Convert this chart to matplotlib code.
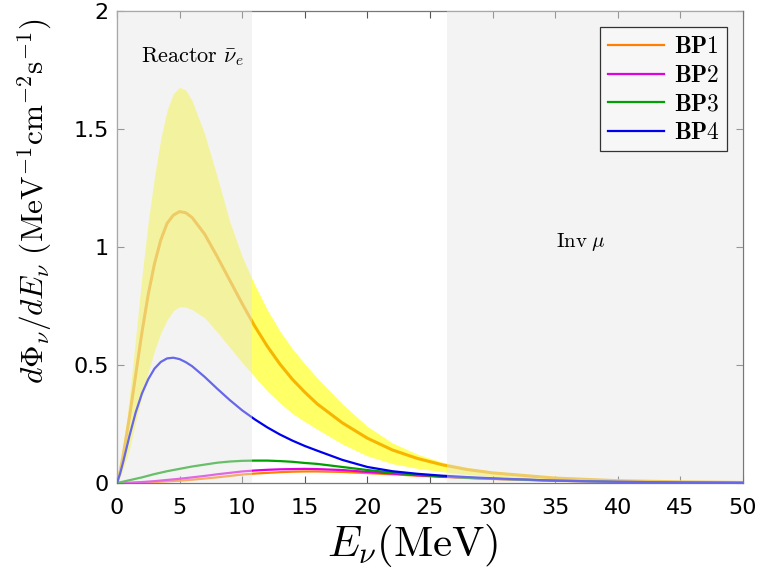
#!/usr/bin/env python3
"""
Reactor antineutrino flux compared with the BP1-BP4 benchmark spectra.
"""

import matplotlib.pyplot as plt
import numpy as np

plt.rcParams.update({
    'font.family': 'DejaVu Sans',
    'font.size': 16,
    'mathtext.fontset': 'cm',
    'xtick.direction': 'in',
    'ytick.direction': 'in',
    'xtick.top': True,
    'ytick.right': True,
})

# energy grids (MeV)
E_fine = [0, 0.25, 0.5, 0.75, 1, 1.5, 2, 2.5, 3, 3.5, 4, 4.5, 5, 5.5, 6, 7, 8, 9, 10,
          11, 12, 13, 14, 15, 16, 18, 20, 22, 24, 26, 28, 30, 35, 40, 45, 50]
E_coarse = [0, 1, 2, 3, 4, 5, 6, 7, 8, 9, 10, 11, 12, 13, 14, 15, 16, 18, 20, 22, 24,
            26, 28, 30, 35, 40, 45, 50]

# reactor flux: central value and band
reactor_mid = [0, 0.05, 0.12, 0.20, 0.28, 0.46, 0.64, 0.80, 0.93, 1.03, 1.10, 1.135, 1.15,
               1.145, 1.125, 1.055, 0.96, 0.86, 0.76, 0.665, 0.58, 0.505, 0.44, 0.385,
               0.335, 0.255, 0.19, 0.14, 0.104, 0.077, 0.057, 0.043, 0.021, 0.010,
               0.005, 0.0025]
reactor_hi = [0, 0.07, 0.16, 0.26, 0.37, 0.62, 0.88, 1.11, 1.30, 1.46, 1.58, 1.65, 1.677,
              1.665, 1.62, 1.48, 1.30, 1.11, 0.96, 0.84, 0.735, 0.645, 0.57, 0.505,
              0.445, 0.335, 0.24, 0.17, 0.122, 0.088, 0.066, 0.05, 0.024, 0.012,
              0.006, 0.003]
reactor_lo = [0, 0.025, 0.06, 0.10, 0.145, 0.26, 0.37, 0.47, 0.56, 0.635, 0.69, 0.73,
              0.747, 0.745, 0.735, 0.70, 0.64, 0.575, 0.51, 0.45, 0.39, 0.34, 0.295,
              0.26, 0.228, 0.165, 0.115, 0.082, 0.062, 0.048, 0.036, 0.027, 0.013,
              0.006, 0.003, 0.0015]

bp4 = [0, 0.04, 0.09, 0.145, 0.20, 0.30, 0.38, 0.44, 0.485, 0.513, 0.528, 0.531, 0.525,
       0.512, 0.495, 0.45, 0.40, 0.352, 0.308, 0.27, 0.236, 0.206, 0.18, 0.157, 0.137,
       0.098, 0.068, 0.05, 0.039, 0.031, 0.025, 0.020, 0.010, 0.005, 0.0025, 0.001]
bp3 = [0, 0.012, 0.024, 0.038, 0.05, 0.06, 0.07, 0.078, 0.086, 0.091, 0.094, 0.095,
       0.095, 0.093, 0.09, 0.085, 0.081, 0.068, 0.055, 0.044, 0.035, 0.028, 0.022,
       0.018, 0.010, 0.005, 0.0025, 0.001]
bp2 = [0, 0.001, 0.004, 0.008, 0.013, 0.018, 0.024, 0.03, 0.037, 0.043, 0.049, 0.053,
       0.056, 0.058, 0.059, 0.06, 0.059, 0.055, 0.047, 0.04, 0.033, 0.027, 0.022,
       0.018, 0.010, 0.005, 0.0025, 0.001]
bp1 = [0, 0.0005, 0.002, 0.004, 0.007, 0.01, 0.014, 0.019, 0.024, 0.03, 0.036, 0.04,
       0.043, 0.046, 0.048, 0.049, 0.049, 0.047, 0.042, 0.037, 0.031, 0.026, 0.021,
       0.017, 0.009, 0.005, 0.0025, 0.001]

# shaded experiment windows (MeV)
reactor_window = (0, 10.8)
inv_mu_window = (26.4, 50)

fig = plt.figure(figsize=(7.61, 5.74), dpi=100)
ax = fig.add_axes([0.1537, 0.1585, 0.8226, 0.8223])

ax.fill_between(E_fine, reactor_lo, reactor_hi, color='#ffff00', alpha=0.6, lw=0, zorder=1)
ax.plot(E_fine, reactor_mid, color='#f7b500', lw=2.2, zorder=2)

ax.plot(E_coarse, bp1, color='#ff7f00', lw=1.6, label=r'$\mathbf{BP1}$', zorder=3)
ax.plot(E_coarse, bp2, color='#e000e0', lw=1.6, label=r'$\mathbf{BP2}$', zorder=3)
ax.plot(E_coarse, bp3, color='#00a000', lw=1.6, label=r'$\mathbf{BP3}$', zorder=3)
ax.plot(E_fine, bp4, color='#0000ee', lw=1.6, label=r'$\mathbf{BP4}$', zorder=3)

# gray windows drawn on top of the curves
for lo, hi in (reactor_window, inv_mu_window):
    ax.axvspan(lo, hi, color='#e6e6e6', alpha=0.45, lw=0, zorder=4)

ax.text(6.0, 1.805, r'$\mathrm{Reactor}\ \bar{\nu}_e$', fontsize=16, ha='center',
        va='center', zorder=5)
ax.text(37.0, 1.02, r'$\mathrm{Inv}\;\mu$', fontsize=15, ha='center', va='center', zorder=5)

ax.set_xlim(0, 50)
ax.set_ylim(0, 2)
ax.set_xticks(np.arange(0, 51, 5))
ax.set_yticks([0, 0.5, 1, 1.5, 2])
ax.set_yticklabels(['0', '0.5', '1', '1.5', '2'])
ax.tick_params(length=5, width=0.8, color='#555555', labelsize=16, pad=6)
ax.tick_params(axis='x', pad=11)
for sp in ax.spines.values():
    sp.set_color('#777777')
    sp.set_linewidth(0.9)

ax.set_xlabel(r'$E_{\nu}(\mathrm{MeV})$', fontsize=31)
ax.xaxis.set_label_coords(0.473, -0.082)
ax.set_ylabel(r'$d\Phi_{\nu}/dE_{\nu}\ (\mathrm{MeV}^{-1}\mathrm{cm}^{-2}\mathrm{s}^{-1})$',
              fontsize=22.5)
ax.yaxis.set_label_coords(-0.1, 0.597)

leg = ax.legend(loc='upper right', bbox_to_anchor=(0.974, 0.966), borderaxespad=0,
                fontsize=17, handlelength=2.4, handletextpad=0.4, labelspacing=0.2,
                borderpad=0.3, fancybox=False, framealpha=1)
leg.get_frame().set_facecolor('#f7f7f7')
leg.get_frame().set_edgecolor('#333333')
leg.get_frame().set_linewidth(0.9)
leg.set_zorder(6)

fig.savefig('out.png', dpi=100)
print("Saved: out.png")
